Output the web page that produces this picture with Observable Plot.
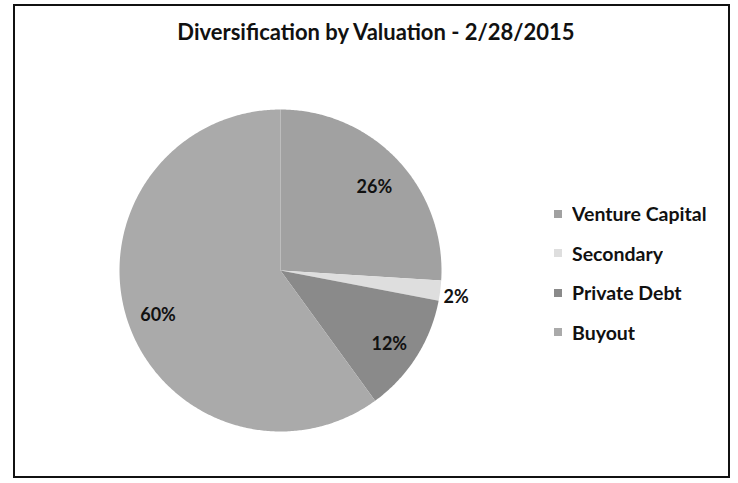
<!DOCTYPE html>
<html><head><meta charset="utf-8">
<script src="https://cdn.jsdelivr.net/npm/d3@7"></script>
<script src="https://cdn.jsdelivr.net/npm/@observablehq/plot@0.6"></script>
<style>
body{margin:0;background:#fff;}
#wrap{position:relative;width:738px;height:483px;overflow:hidden;font-family:Lato,"Open Sans",sans-serif;background:#fff;}
#border{position:absolute;left:13px;top:4px;width:713px;height:470px;border:2px solid #111;}
#title{position:absolute;left:0;width:752px;top:18px;text-align:center;font-weight:bold;font-size:22px;color:#111;font-family:Lato,sans-serif;}
#chart{position:absolute;left:0;top:0;}
#legend{position:absolute;left:554px;top:194px;}
#legend .lg-swatch{height:39.5px;padding-bottom:0;align-items:center;}
#legend .lg-swatch svg{margin-right:10px;}
</style></head><body>
<div id="wrap"><div id="border"></div><div id="title">Diversification by Valuation - 2/28/2015</div><div id="chart"></div><div id="legend"></div></div>
<script>
const categories = ["Venture Capital", "Secondary", "Private Debt", "Buyout"];
const shares = [26, 2, 12, 60];
const colors = ["#a1a1a1", "#dedede", "#8a8a8a", "#aaaaaa"];

const data = categories.map((c, i) => ({cat: c, share: shares[i]}));
const arcs = d3.pie().sort(null).value(d => d.share)(data);

// slice outlines built from the pie angles (clockwise from 12 o'clock)
const pts = [];
for (const a of arcs) {
  const c = a.data.cat;
  pts.push({cat: c, x: 0, y: 0});
  const n = Math.max(2, Math.ceil((a.endAngle - a.startAngle) / 0.01));
  for (let k = 0; k <= n; k++) {
    const t = a.startAngle + (a.endAngle - a.startAngle) * k / n;
    pts.push({cat: c, x: Math.sin(t), y: Math.cos(t)});
  }
  pts.push({cat: c, x: 0, y: 0});
}
const mid = a => (a.startAngle + a.endAngle) / 2;
const lr = a => a.data.share < 5 ? 1.1 : 0.8;

const chart = Plot.plot({
  width: 738, height: 483, margin: 0,
  style: {background: "none", overflow: "visible"},
  x: {domain: [-1, 1], range: [119, 441], axis: null},
  y: {domain: [-1, 1], range: [431, 109], axis: null},
  color: {domain: categories, range: colors},
  marks: [
    Plot.line(pts, {x: "x", y: "y", z: "cat", fill: "cat", stroke: "none"}),
    Plot.text(arcs, {
      x: a => lr(a) * Math.sin(mid(a)),
      y: a => lr(a) * Math.cos(mid(a)),
      text: a => a.data.share + "%",
      dy: 5,
      fontWeight: "bold", fontSize: 18, fill: "#111", fontFamily: "Lato"
    })
  ]
});
document.getElementById("chart").append(chart);

const legend = Plot.legend({
  color: {domain: categories, range: colors},
  legend: "swatches", columns: 1, swatchSize: 8, className: "lg",
  style: {fontSize: "19.5px", fontWeight: "bold", fontFamily: "Lato", color: "#111"}
});
document.getElementById("legend").append(legend);
</script>
</body></html>
